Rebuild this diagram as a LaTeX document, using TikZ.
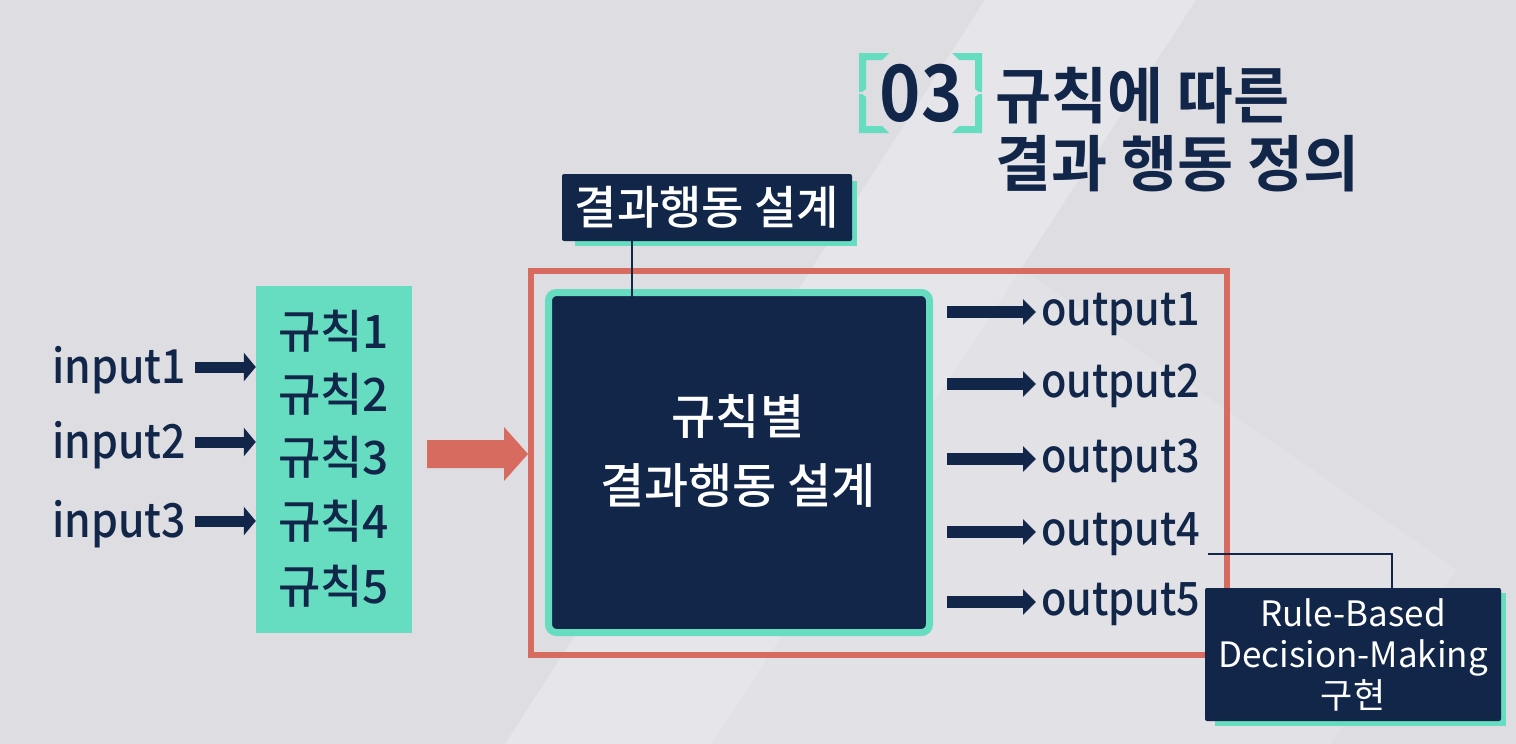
\documentclass[tikz,border=0pt]{standalone}
\usepackage{fontspec}
\setmainfont{Noto Sans CJK KR Medium}[BoldFont={Noto Sans CJK KR Bold}]
\newfontfamily\krreg{Noto Sans CJK KR}
\usetikzlibrary{arrows.meta,calc}
\definecolor{bg}{HTML}{DDDDE2}
\definecolor{bglight}{HTML}{E5E5EA}
\definecolor{navy}{HTML}{112649}
\definecolor{teal}{HTML}{66DCC1}
\definecolor{coral}{HTML}{D86B5F}
\tikzset{
  txt/.style={inner sep=0pt, text=navy},
  wtxt/.style={inner sep=0pt, text=white},
  inarrow/.style={draw=navy, line width=11pt, -{Triangle[length=12pt,width=28pt]}},
  outarrow/.style={draw=navy, line width=12pt, -{Triangle[length=13pt,width=25pt]}},
  link/.style={draw=navy, line width=2pt},
}
\begin{document}
\begin{tikzpicture}[x=1pt,y=-1pt]
\useasboundingbox (0,0) rectangle (1516,744);
% background
\fill[bg] (0,0) rectangle (1516,744);
\fill[bglight] (985,0) -- (1196,0) -- (711,744) -- (505,744) -- cycle;
\fill[bglight, opacity=0.6] (930,205) -- (1457,570) -- (1330,744) -- (711,744) -- cycle;

% title bracket
\fill[teal] (859,53) -- (889,53) -- (882,60) -- (866,60) -- (866,89) -- (862,92) -- (859,92) -- cycle;
\fill[teal] (859,133) -- (889,133) -- (882,126) -- (866,126) -- (866,97) -- (862,94) -- (859,94) -- cycle;
\fill[teal] (982,53) -- (952,53) -- (959,60) -- (975,60) -- (975,89) -- (979,92) -- (982,92) -- cycle;
\fill[teal] (982,133) -- (952,133) -- (959,126) -- (975,126) -- (975,97) -- (979,94) -- (982,94) -- cycle;
\node[txt, xscale=0.9, font=\bfseries\fontsize{78}{78}\selectfont] (num) at (921,93) {03};
\node[txt, anchor=base west, font=\bfseries\fontsize{61}{61}\selectfont] (t1) at (995,118) {규칙에 따른};
\node[txt, anchor=base west, font=\bfseries\fontsize{61}{61}\selectfont] (t2) at (995,186) {결과 행동 정의};

% coral frame
\draw[coral, line width=6pt] (531,271) rectangle (1227,655);

% label top
\fill[teal] (575,181) rectangle (857,246);
\node[fill=navy, minimum width=290pt, minimum height=67pt, rounded corners=2pt, inner sep=0pt,
      text=white, font=\fontsize{46}{46}\selectfont] (lbl) at (707,207.5) {결과행동 설계};

% main box
\node[fill=navy, draw=teal, line width=7pt, rounded corners=8pt, minimum width=381pt, minimum height=340pt, inner sep=0pt] (main) at (739,462.5) {};
\node[wtxt, font=\fontsize{48}{48}\selectfont] (m1) at (738,416) {규칙별};
\node[wtxt, font=\fontsize{48}{48}\selectfont] (m2) at (738,485) {결과행동 설계};
\draw[link] (lbl.south -| 632,0) -- (632,300);

% rules box
\node[fill=teal, minimum width=156pt, minimum height=347pt, inner sep=0pt] (rules) at (334,459.5) {};
\foreach \i/\y in {1/348,2/411,3/474,4/538,5/603}{
  \node[txt, anchor=base west, font=\fontsize{46}{46}\selectfont] (r\i) at (278,\y) {규칙\i};
}

% inputs
\coordinate (inx) at (195,0);
\foreach \i/\y in {1/383,2/458,3/537}{
  \node[txt, anchor=base west, xscale=0.91, font=\fontsize{47}{47}\selectfont] (in\i) at (52,\y) {input\i};
  \coordinate (ia\i) at ([yshift=16pt]in\i.base);
  \draw[inarrow] (ia\i -| inx) -- (ia\i -| rules.west);
}

% big coral arrow
\fill[coral] (427,440) -- (504,440) -- (504,427) -- (528,454) -- (504,481) -- (504,468) -- (427,468) -- cycle;

% outputs
\coordinate (outx) at (947,0);
\coordinate (outend) at (1036,0);
\foreach \i/\y in {1/325,2/397,3/472,4/545,5/615}{
  \node[txt, anchor=base west, xscale=0.9, font=\fontsize{46}{46}\selectfont] (out\i) at (1041,\y) {output\i};
  \coordinate (oa\i) at ([yshift=13pt]out\i.base);
  \draw[outarrow] (oa\i -| outx) -- (oa\i -| outend);
}

% bottom right box
\fill[teal] (1215,593) rectangle (1506,726);
\node[fill=navy, minimum width=296pt, minimum height=133pt, rounded corners=2pt, inner sep=0pt,
      text=white, align=center, font=\krreg\fontsize{35}{41}\selectfont] (rb) at (1353,654.5) {Rule-Based\\Decision-Making\\구현};
\coordinate (rbc) at (1208,554);
\draw[link] (rbc) -- (rbc -| 1392,0) -- (rb.north -| 1392,0);
\end{tikzpicture}
\end{document}
